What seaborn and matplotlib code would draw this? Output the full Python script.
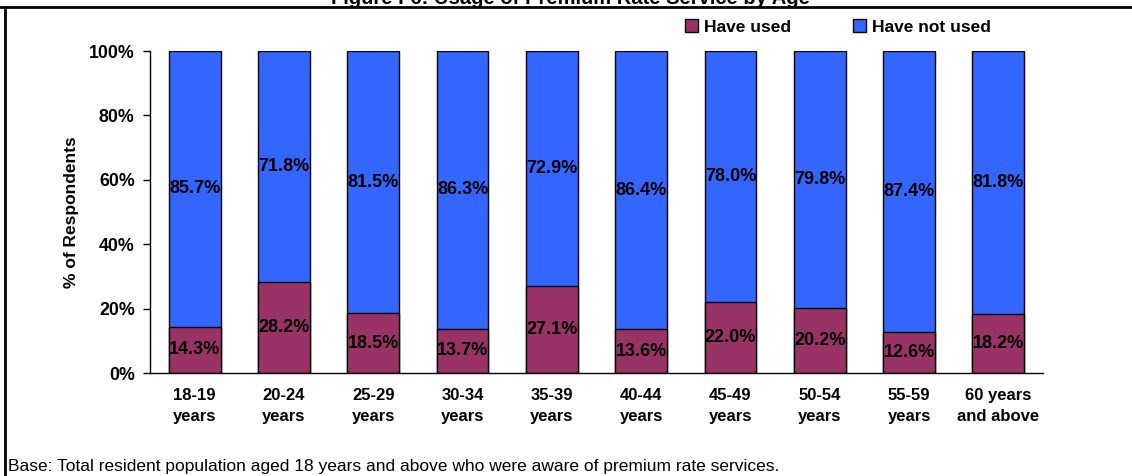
import matplotlib
matplotlib.use("Agg")
import matplotlib.pyplot as plt
import seaborn as sns
import pandas as pd
from matplotlib.lines import Line2D
from matplotlib.patches import Patch
from matplotlib.ticker import FixedLocator, FuncFormatter

categories = ["18-19\nyears", "20-24\nyears", "25-29\nyears", "30-34\nyears", "35-39\nyears",
              "40-44\nyears", "45-49\nyears", "50-54\nyears", "55-59\nyears", "60 years\nand above"]
have_used = [14.3, 28.2, 18.5, 13.7, 27.1, 13.6, 22.0, 20.2, 12.6, 18.2]
have_not_used = [85.7, 71.8, 81.5, 86.3, 72.9, 86.4, 78.0, 79.8, 87.4, 81.8]
series_names = ["Have used", "Have not used"]
title = "Figure F6: Usage of Premium Rate Service by Age"
ylabel = "% of Respondents"
footnote = "Base: Total resident population aged 18 years and above who were aware of premium rate services."

sns.set_theme(style="white")
plt.rcParams['font.family'] = ['Liberation Sans', 'DejaVu Sans']
plt.rcParams['text.color'] = 'black'
plt.rcParams['axes.labelcolor'] = 'black'
plt.rcParams['xtick.color'] = 'black'
plt.rcParams['ytick.color'] = 'black'

maroon = "#993366"
blue = "#3366FF"

df = pd.DataFrame({"cat": categories, "used": have_used, "notused": have_not_used})
df["total"] = df["used"] + df["notused"]

fig = plt.figure(figsize=(11.32, 4.76), dpi=100)
ax = fig.add_axes([150/1132, 1-373/476, (1043-150)/1132, (373-51)/476])

sns.barplot(data=df, x="cat", y="total", color=blue, edgecolor="black", linewidth=1.0,
            width=0.58, saturation=1, ax=ax)
sns.barplot(data=df, x="cat", y="used", color=maroon, edgecolor="black", linewidth=1.0,
            width=0.58, saturation=1, ax=ax)

for i, (u, n) in enumerate(zip(have_used, have_not_used)):
    ax.text(i, u/2, f"{u:.1f}%", ha="center", va="center", fontsize=13, fontweight="bold", color="black")
    ax.text(i, u + n/2, f"{n:.1f}%", ha="center", va="center", fontsize=13, fontweight="bold", color="black")

ax.set_xlim(-0.5, len(categories)-0.5)
ax.set_ylim(0, 100)
ax.set_yticks([0, 20, 40, 60, 80, 100])
ax.yaxis.set_major_formatter(FuncFormatter(lambda v, p: f"{v:.0f}%"))
ax.set_xlabel("")
ax.set_ylabel(ylabel, fontsize=12.5, fontweight="bold", labelpad=7, color="black")
for lbl in ax.get_xticklabels():
    lbl.set_fontweight("bold")
    lbl.set_fontsize(12)
    lbl.set_linespacing(1.45)
    lbl.set_color("black")
for lbl in ax.get_yticklabels():
    lbl.set_fontweight("bold")
    lbl.set_fontsize(12.8)
    lbl.set_color("black")
ax.xaxis.set_minor_locator(FixedLocator([i - 0.5 for i in range(len(categories)+1)]))
ax.tick_params(axis="x", which="major", length=0, pad=11)
ax.tick_params(axis="x", which="minor", length=5, width=1, color="black", direction="out")
ax.tick_params(axis="y", which="major", length=5, width=1, color="black", direction="out", left=True, pad=6)
sns.despine(ax=ax, top=True, right=True)
for s in ["left", "bottom"]:
    ax.spines[s].set_color("black")
    ax.spines[s].set_linewidth(1.0)

handles = [Patch(facecolor=maroon, edgecolor="black", label=series_names[0]),
           Patch(facecolor=blue, edgecolor="black", label=series_names[1])]
fig.legend(handles=handles, loc="center", bbox_to_anchor=(838/1132, 1-27/476), ncol=2, frameon=False,
           prop={"weight": "bold", "size": 12.5}, handlelength=0.75, handleheight=0.75,
           handletextpad=0.35, columnspacing=3.6, labelcolor="black")

fig.text(570/1132, 1 + 1/476, title, ha="center", va="center", fontsize=14.5, fontweight="bold", color="black")
fig.text(8/1132, 1-466/476, footnote, ha="left", va="center", fontsize=12.5, color="black")

fig.add_artist(Line2D([0, 1], [1-7/476, 1-7/476], transform=fig.transFigure, color="black", linewidth=2))
fig.add_artist(Line2D([5/1132, 5/1132], [0, 1-7/476], transform=fig.transFigure, color="black", linewidth=2))

fig.savefig("out.png", dpi=100)
